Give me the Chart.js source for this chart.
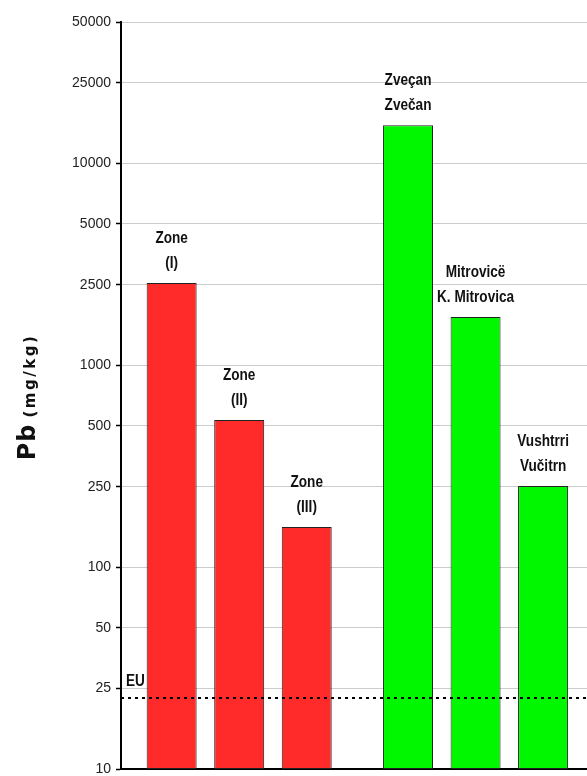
<!DOCTYPE html>
<html>
<head>
<meta charset="utf-8">
<script src="https://cdn.jsdelivr.net/npm/chart.js@4/dist/chart.umd.min.js"></script>
<style>
  html, body { margin: 0; padding: 0; background: #ffffff; }
  #wrap { width: 587px; height: 776px; }
</style>
</head>
<body>
<div id="wrap"><canvas id="pbChart" width="587" height="776"></canvas></div>
<script>
// Lead (Pb) in soil, mg/kg, by zone and by town
const siteNames = [
  ['Zone', '(I)'],
  ['Zone', '(II)'],
  ['Zone', '(III)'],
  ['Zveçan', 'Zvečan'],
  ['Mitrovicë', 'K. Mitrovica'],
  ['Vushtrri', 'Vučitrn']
];
const siteGroups = ['zone', 'zone', 'zone', 'town', 'town', 'town'];
const pbValues = [2550, 535, 158, 15400, 1730, 252];
const euLimit = 22.5;
const yTickValues = [10, 25, 50, 100, 250, 500, 1000, 2500, 5000, 10000, 25000, 50000];

const groupColors = { zone: '#ff2b2b', town: '#00f700' };
const sansFamily = '"Liberation Sans", Arial, sans-serif';

// bars sit on a linear x axis; the town group is set apart by an extra half slot
const xPositions = siteGroups.map((g, i) => i + 1 + (g === 'town' ? 0.5 : 0));
const xMin = 0.25, xMax = 7.15;

const barData = pbValues.map((v, i) => ({ x: xPositions[i], y: v }));

// condensed bold text: squeeze the glyphs horizontally
function narrowText(ctx, text, x, y, align) {
  ctx.save();
  ctx.translate(x, y);
  ctx.scale(0.8, 1);
  ctx.textAlign = align;
  ctx.fillText(text, 0, 0);
  ctx.restore();
}

// two-line names above each bar, plus the EU tag
const barNamesPlugin = {
  id: 'barNames',
  afterDatasetsDraw(chart) {
    const ctx = chart.ctx;
    const barIndex = chart.data.datasets.findIndex(d => d.type === 'bar');
    const meta = chart.getDatasetMeta(barIndex);
    ctx.save();
    ctx.font = 'bold 17px ' + sansFamily;
    ctx.fillStyle = '#111';
    ctx.textBaseline = 'middle';
    meta.data.forEach((bar, i) => {
      const [l1, l2] = siteNames[i];
      narrowText(ctx, l1, bar.x, bar.y - 45, 'center');
      narrowText(ctx, l2, bar.x, bar.y - 20, 'center');
    });
    const y = chart.scales.y.getPixelForValue(euLimit);
    ctx.textBaseline = 'alphabetic';
    ctx.font = 'bold 17px ' + sansFamily;
    narrowText(ctx, 'EU', chart.chartArea.left + 5, y - 12, 'left');
    ctx.restore();
  }
};

// rotated y-axis title with mixed sizes
const yTitlePlugin = {
  id: 'yTitle',
  afterDraw(chart) {
    const ctx = chart.ctx;
    const cy = 397;
    ctx.save();
    ctx.translate(35, cy);
    ctx.rotate(-Math.PI / 2);
    ctx.fillStyle = '#111';
    ctx.textBaseline = 'alphabetic';
    ctx.textAlign = 'left';
    const bigFont = 'bold 24px "DejaVu Sans", Arial, sans-serif';
    const smallFont = 'bold 15px "DejaVu Sans", Arial, sans-serif';
    ctx.font = bigFont;
    ctx.letterSpacing = '1px';
    const wPb = ctx.measureText('Pb').width;
    ctx.font = smallFont;
    ctx.letterSpacing = '2.5px';
    const wUnit = ctx.measureText('(mg/kg)').width;
    const gap = 6;
    let x = -(wPb + gap + wUnit) / 2;
    ctx.font = bigFont;
    ctx.letterSpacing = '1px';
    ctx.fillText('Pb', x, 0);
    x += wPb + gap;
    ctx.font = smallFont;
    ctx.letterSpacing = '2.5px';
    ctx.fillText('(mg/kg)', x, 0);
    ctx.restore();
  }
};

new Chart(document.getElementById('pbChart'), {
  type: 'bar',
  data: {
    datasets: [
      {
        type: 'line',
        label: 'EU',
        data: [{ x: xMin, y: euLimit }, { x: xMax, y: euLimit }],
        borderColor: '#000',
        borderWidth: 2,
        borderDash: [3, 4],
        pointRadius: 0,
        fill: false,
        order: 0
      },
      {
        type: 'bar',
        label: 'Pb',
        data: barData,
        backgroundColor: siteGroups.map(g => groupColors[g]),
        borderColor: '#222',
        borderWidth: 1,
        borderSkipped: false,
        categoryPercentage: 1,
        barPercentage: 0.74,
        order: 1
      }
    ]
  },
  options: {
    responsive: false,
    animation: false,
    devicePixelRatio: 1,
    layout: { padding: { top: 22, bottom: 7, left: 0, right: 0 } },
    plugins: {
      legend: { display: false },
      tooltip: { enabled: false },
      title: { display: false }
    },
    scales: {
      x: {
        type: 'linear',
        offset: false,
        min: xMin,
        max: xMax,
        ticks: { display: false, stepSize: 1, includeBounds: false },
        grid: { display: false },
        border: { display: true, color: '#000', width: 2 },
        afterFit(scale) { scale.height = 0; }
      },
      y: {
        type: 'logarithmic',
        min: 10,
        max: 50000,
        afterBuildTicks(scale) {
          scale.ticks = yTickValues.map(v => ({ value: v }));
        },
        afterFit(scale) {
          scale.width = 121;
          scale.paddingTop = 0;
          scale.paddingBottom = 0;
        },
        ticks: {
          color: '#222',
          padding: 5,
          font: { family: sansFamily, size: 14 },
          callback: v => String(v)
        },
        grid: {
          color: '#cccccc',
          lineWidth: 1,
          drawTicks: true,
          tickLength: 5,
          tickColor: '#000',
          tickWidth: 1.5
        },
        border: { display: true, color: '#000', width: 2 }
      }
    }
  },
  plugins: [barNamesPlugin, yTitlePlugin]
});
</script>
</body>
</html>
